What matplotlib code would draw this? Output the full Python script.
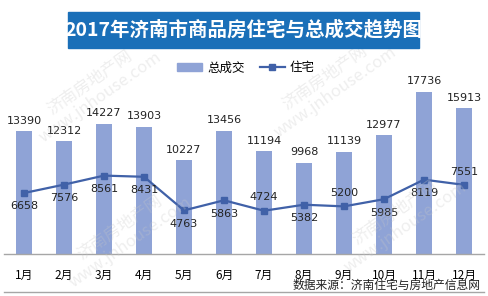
import matplotlib.pyplot as plt
from matplotlib.patches import Rectangle, Patch
from matplotlib.lines import Line2D
import numpy as np

plt.rcParams['font.family'] = ['Noto Sans CJK SC', 'DejaVu Sans']

months = ['1月', '2月', '3月', '4月', '5月', '6月', '7月', '8月', '9月', '10月', '11月', '12月']
total = [13390, 12312, 14227, 13903, 10227, 13456, 11194, 9968, 11139, 12977, 17736, 15913]
housing = [6658, 7576, 8561, 8431, 4763, 5863, 4724, 5382, 5200, 5985, 8119, 7551]
# label above (1) or below (-1) the line point, as in the original
housing_pos = [-1, -1, -1, -1, -1, -1, 1, -1, 1, -1, -1, 1]

bar_color = '#8FA3D6'
line_color = '#4061A8'

fig = plt.figure(figsize=(4.88, 2.96), dpi=100)
ax = fig.add_axes([4/488, 42/296, 480/488, 174/296])

x = np.arange(len(months))
ax.bar(x, total, width=0.4, color=bar_color, zorder=2)
ax.plot(x, housing, color=line_color, lw=1.6, marker='s', ms=3.8, zorder=3)

for xi, v in zip(x, total):
    ax.annotate(str(v), (xi, v), xytext=(0, 4), textcoords='offset points',
                ha='center', va='bottom', fontsize=8, color='#222222', family='DejaVu Sans')
for xi, v, p in zip(x, housing, housing_pos):
    ax.annotate(str(v), (xi, v), xytext=(0, 6 * p), textcoords='offset points',
                ha='center', va='bottom' if p > 0 else 'top', fontsize=8,
                color='#222222', family='DejaVu Sans')

ax.set_xlim(-0.5, len(months) - 0.5)
ax.set_ylim(0, 19000)
ax.set_xticks(x)
ax.set_xticklabels(months, fontsize=8.5)
ax.tick_params(axis='x', length=0, pad=11)
ax.set_yticks([])
for s in ['top', 'left', 'right']:
    ax.spines[s].set_visible(False)
ax.spines['bottom'].set_color('#A6A6A6')
ax.spines['bottom'].set_linewidth(1)
ax.patch.set_alpha(0)

# title banner
fig.patches.append(Rectangle((68/488, (296-48)/296), 351/488, 36/296,
                             transform=fig.transFigure, color='#1A6FB8', zorder=1))
fig.text(243.5/488, (296-30)/296, '2017年济南市商品房住宅与总成交趋势图', color='white',
         fontsize=14, fontweight='bold', ha='center', va='center')

handles = [Patch(color=bar_color, label='总成交'),
           Line2D([], [], color=line_color, lw=1.6, marker='s', ms=3.8, label='住宅')]
fig.legend(handles=handles, loc='center', bbox_to_anchor=(246/488, (296-68)/296),
           ncol=2, frameon=False, fontsize=9, handlelength=2.0, handleheight=0.6,
           columnspacing=1.2, handletextpad=0.4)

# watermarks
for cx, cy in [(95, 90), (125, 235), (330, 85), (400, 220)]:
    fig.text(cx/488, (296-cy)/296, '济南房地产网\nwww.jnhouse.com', rotation=35,
             ha='center', va='center', fontsize=12, color='#C8C8C8', alpha=0.3,
             linespacing=1.1, zorder=0)

# bottom rule and source
fig.add_artist(Line2D([4/488, 484/488], [4/296, 4/296], transform=fig.transFigure,
                      color='#A6A6A6', lw=1))
fig.text(481/488, 11/296, '数据来源：济南住宅与房地产信息网', ha='right', va='center',
         fontsize=8.5, color='#222222')

fig.savefig('out.png', dpi=100)
